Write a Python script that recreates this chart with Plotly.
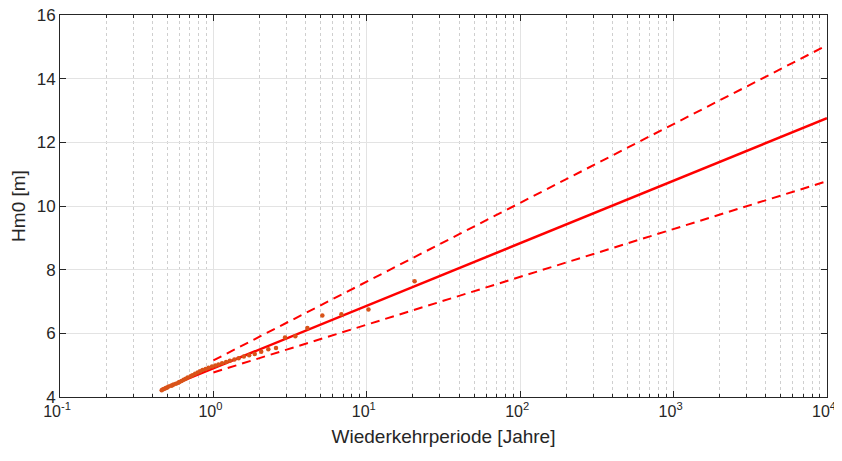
"""
Wiederkehrperiode vs. Hm0: empirical points, fitted line and confidence bounds.
"""

import plotly.graph_objects as go

# ── Data ──────────────────────────────────────────────────────────────────────

obs_T = [20.5, 10.25, 6.83, 5.13, 4.10, 3.42, 2.93, 2.56, 2.28, 2.05,
         1.86, 1.71, 1.58, 1.46, 1.37, 1.28, 1.21, 1.14, 1.08, 1.03,
         0.98, 0.93, 0.89, 0.85, 0.82, 0.79, 0.76, 0.73, 0.71, 0.68,
         0.66, 0.64, 0.62, 0.60, 0.59, 0.57, 0.55, 0.54, 0.53, 0.51,
         0.50, 0.49, 0.48, 0.47, 0.46]
obs_H = [7.64, 6.75, 6.60, 6.56, 6.17, 5.91, 5.87, 5.54, 5.50, 5.42,
         5.35, 5.31, 5.27, 5.22, 5.18, 5.14, 5.10, 5.06, 5.02, 4.99,
         4.96, 4.92, 4.88, 4.85, 4.81, 4.77, 4.73, 4.68, 4.65, 4.61,
         4.57, 4.54, 4.50, 4.47, 4.45, 4.42, 4.39, 4.37, 4.35, 4.33,
         4.30, 4.28, 4.26, 4.24, 4.21]

fit_T = [0.455, 1, 10, 100, 1000, 10000]
fit_H = [4.23, 4.90, 6.87, 8.83, 10.80, 12.76]

ci_T     = [1.0, 10, 100, 1000, 10000]
ci_upper = [5.15, 7.62, 10.10, 12.57, 15.05]
ci_lower = [4.77, 6.27, 7.77, 9.28, 10.78]

x_tickvals = [0.1, 1, 10, 100, 1000, 10000]
x_ticktext = ["10<sup>-1</sup>", "10<sup>0</sup>", "10<sup>1</sup>",
              "10<sup>2</sup>", "10<sup>3</sup>", "10<sup>4</sup>"]

# ── Figure ────────────────────────────────────────────────────────────────────

RED    = "#FF0000"
ORANGE = "#D95319"
AXIS   = "#262626"
GRID   = "#E3E3E3"
FONT   = "Liberation Sans, Arial, sans-serif"

fig = go.Figure()

fig.add_trace(go.Scatter(x=fit_T, y=fit_H, mode="lines",
                         line=dict(color=RED, width=2.5), showlegend=False))
fig.add_trace(go.Scatter(x=ci_T, y=ci_upper, mode="lines",
                         line=dict(color=RED, width=2, dash="9px,6px"),
                         showlegend=False))
fig.add_trace(go.Scatter(x=ci_T, y=ci_lower, mode="lines",
                         line=dict(color=RED, width=2, dash="9px,6px"),
                         showlegend=False))
fig.add_trace(go.Scatter(x=obs_T, y=obs_H, mode="markers",
                         marker=dict(color=ORANGE, size=4.5, line=dict(width=0)),
                         showlegend=False))

fig.update_xaxes(
    type="log", range=[-1, 4],
    tickvals=x_tickvals, ticktext=x_ticktext,
    ticks="inside", ticklen=6, tickcolor=AXIS,
    showline=True, linecolor=AXIS, linewidth=1, mirror="ticks",
    showgrid=True, gridcolor=GRID, gridwidth=1,
    minor=dict(dtick="D1", ticks="inside", ticklen=3, tickcolor=AXIS,
               showgrid=True, gridcolor="#CFCFCF", griddash="dot"),
    zeroline=False, automargin=False, ticklabeloverflow="allow",
    ticklabelshift=-3,
    tickfont=dict(size=16, color=AXIS, family=FONT),
    title=dict(text="Wiederkehrperiode [Jahre]",
               font=dict(size=19, color=AXIS, family=FONT), standoff=10),
)
fig.update_yaxes(
    range=[4, 16], dtick=2,
    ticks="inside", ticklen=6, tickcolor=AXIS,
    showline=True, linecolor=AXIS, linewidth=1, mirror="ticks",
    showgrid=True, gridcolor=GRID, gridwidth=1,
    zeroline=False, automargin=False, ticklabeloverflow="allow",
    tickfont=dict(size=17, color=AXIS, family=FONT),
    title=dict(text="Hm0 [m]", font=dict(size=19, color=AXIS, family=FONT),
               standoff=8),
)

# page body adds an 8px margin; figure is sized so the page does not overflow
fig.update_layout(
    width=834, height=445,
    margin=dict(l=52, r=15, t=7, b=56),
    plot_bgcolor="white", paper_bgcolor="white",
    font=dict(family=FONT, color=AXIS),
)

fig.write_html("out.html")
